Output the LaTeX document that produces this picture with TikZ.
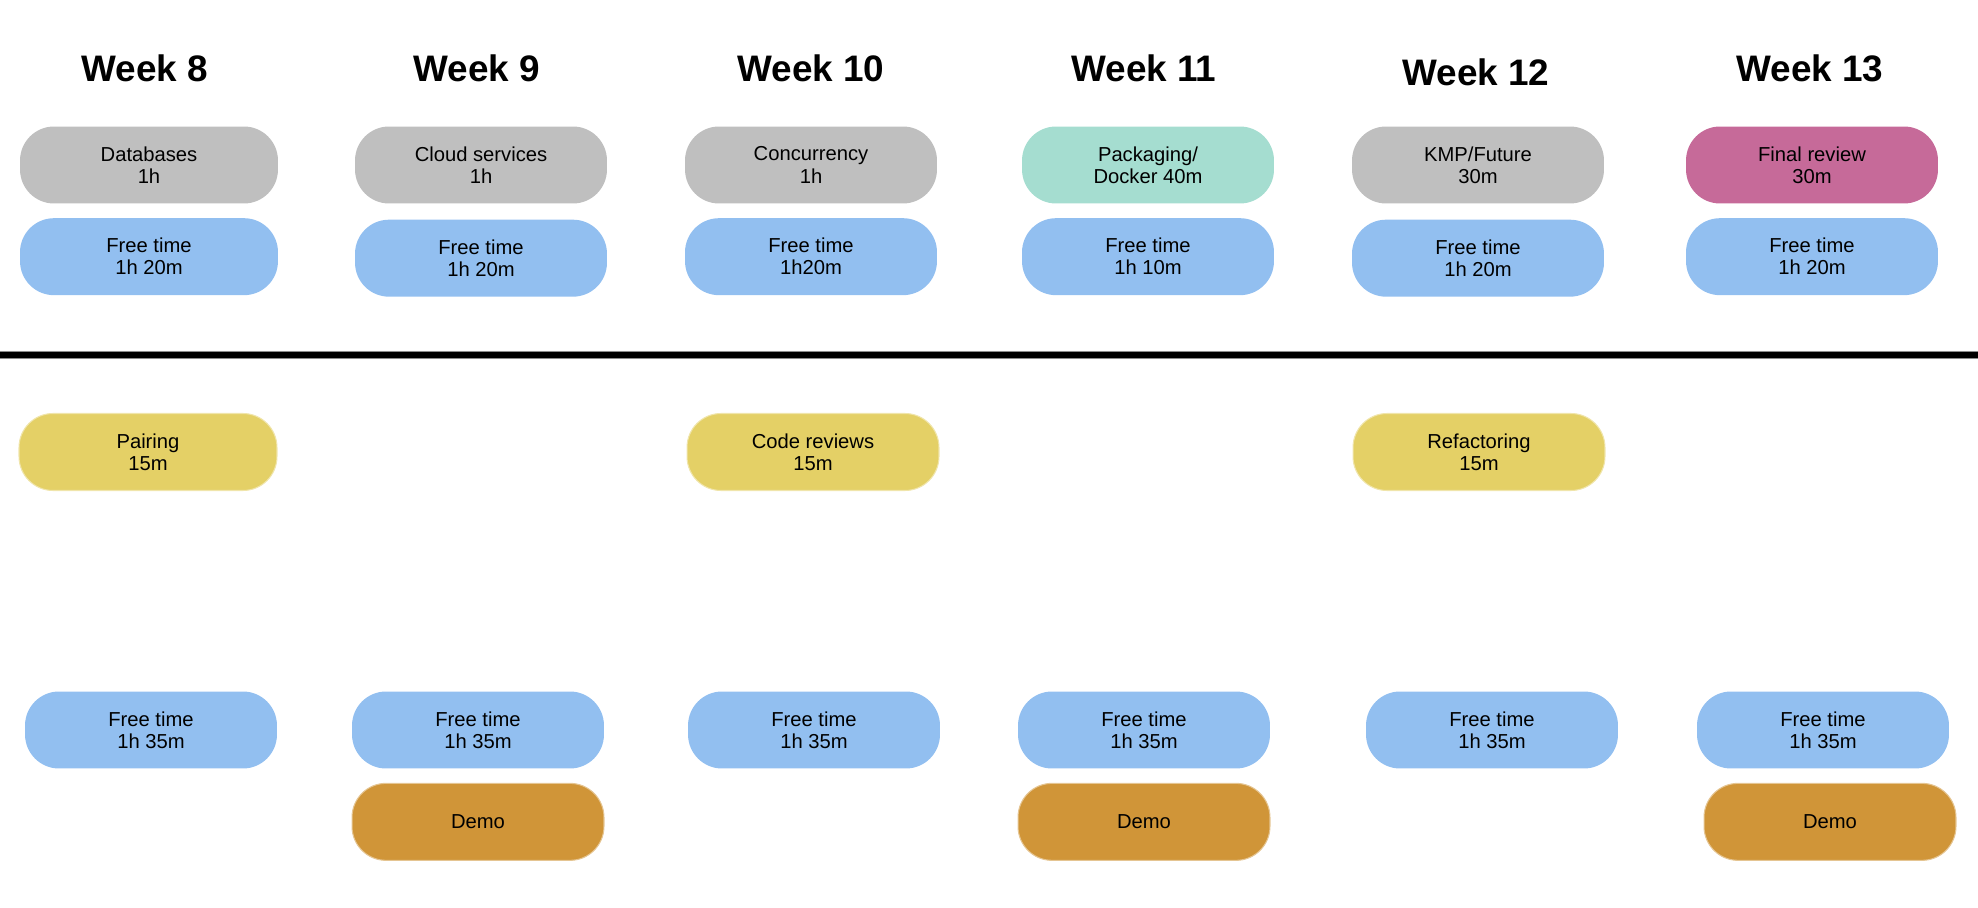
\documentclass[tikz,border=0pt]{standalone}
\usepackage{fontspec}
\setmainfont{Liberation Sans}
\usetikzlibrary{positioning}
\definecolor{topicgray}{RGB}{191,191,191}
\definecolor{freeblue}{RGB}{146,191,240}
\definecolor{dockerteal}{RGB}{165,221,208}
\definecolor{reviewpink}{RGB}{198,106,153}
\definecolor{codeyellow}{RGB}{228,208,102}
\definecolor{demoorange}{RGB}{208,149,56}
\tikzset{
  pill/.style={rounded corners=0.68cm, minimum width=5.04cm, minimum height=1.54cm,
               align=center, inner sep=0pt, font=\fontsize{11.5}{12.6}\selectfont},
  weektitle/.style={font=\fontsize{21}{24}\selectfont\bfseries},
  topic/.style={pill, fill=topicgray},
  freetime/.style={pill, fill=freeblue},
  practice/.style={pill, fill=codeyellow, draw=codeyellow!55!white, line width=0.6pt},
  demobox/.style={pill, fill=demoorange, draw=demoorange!55!white, line width=0.6pt}
}

\begin{document}
\begin{tikzpicture}[x=0.02cm, y=-0.02cm]
    \useasboundingbox (0,0) rectangle (1978,908);

    % week headings
    \node[weektitle] (w8)  at (145,68)  {Week 8};
    \node[weektitle] (w9)  at (477,68)  {Week 9};
    \node[weektitle] (w10) at (811,68)  {Week 10};
    \node[weektitle] (w11) at (1144,68) {Week 11};
    \node[weektitle] (w12) at (1476,72) {Week 12};
    \node[weektitle] (w13) at (1810,68) {Week 13};

    % lecture topics
    \node[topic, minimum width=5.16cm] (db) at (149,165) {Databases\\1h};
    \node[topic] (cloud) at (481,165)  {Cloud services\\1h};
    \node[topic] (conc)  at (811,165)  {Concurrency\\1h};
    \node[pill, fill=dockerteal] (pack) at (1148,165) {Packaging/\\Docker 40m};
    \node[topic] (kmp)   at (1478,165) {KMP/Future\\30m};
    \node[pill, fill=reviewpink] (final) at (1812,165) {Final review\\30m};

    \node[freetime, minimum width=5.16cm, below=0.28cm of db] (freeA8) {Free time\\1h 20m};
    \node[freetime, below=0.31cm of cloud] (freeA9)  {Free time\\1h 20m};
    \node[freetime, below=0.28cm of conc]  (freeA10) {Free time\\1h20m};
    \node[freetime, below=0.28cm of pack]  (freeA11) {Free time\\1h 10m};
    \node[freetime, below=0.31cm of kmp]   (freeA12) {Free time\\1h 20m};
    \node[freetime, below=0.28cm of final] (freeA13) {Free time\\1h 20m};

    % divider
    \draw[line width=5pt, black!45] (0,355) -- (1978,355);
    \draw[line width=3pt, black] (0,355) -- (1978,355);

    % practice sessions
    \node[practice, minimum width=5.16cm] (pair) at (148,452) {Pairing\\15m};
    \node[practice] (review) at (813,452)  {Code reviews\\15m};
    \node[practice] (refac)  at (1479,452) {Refactoring\\15m};

    \node[freetime] (freeB8)  at (151,730)  {Free time\\1h 35m};
    \node[freetime] (freeB9)  at (478,730)  {Free time\\1h 35m};
    \node[freetime] (freeB10) at (814,730)  {Free time\\1h 35m};
    \node[freetime] (freeB11) at (1144,730) {Free time\\1h 35m};
    \node[freetime] (freeB12) at (1492,730) {Free time\\1h 35m};
    \node[freetime] (freeB13) at (1823,730) {Free time\\1h 35m};

    \node[demobox, below=0.28cm of freeB9]  (demo9)  {Demo};
    \node[demobox, below=0.28cm of freeB11] (demo11) {Demo};
    \node[demobox, below=0.28cm of freeB13, xshift=0.14cm] (demo13) {Demo};
\end{tikzpicture}
\end{document}
